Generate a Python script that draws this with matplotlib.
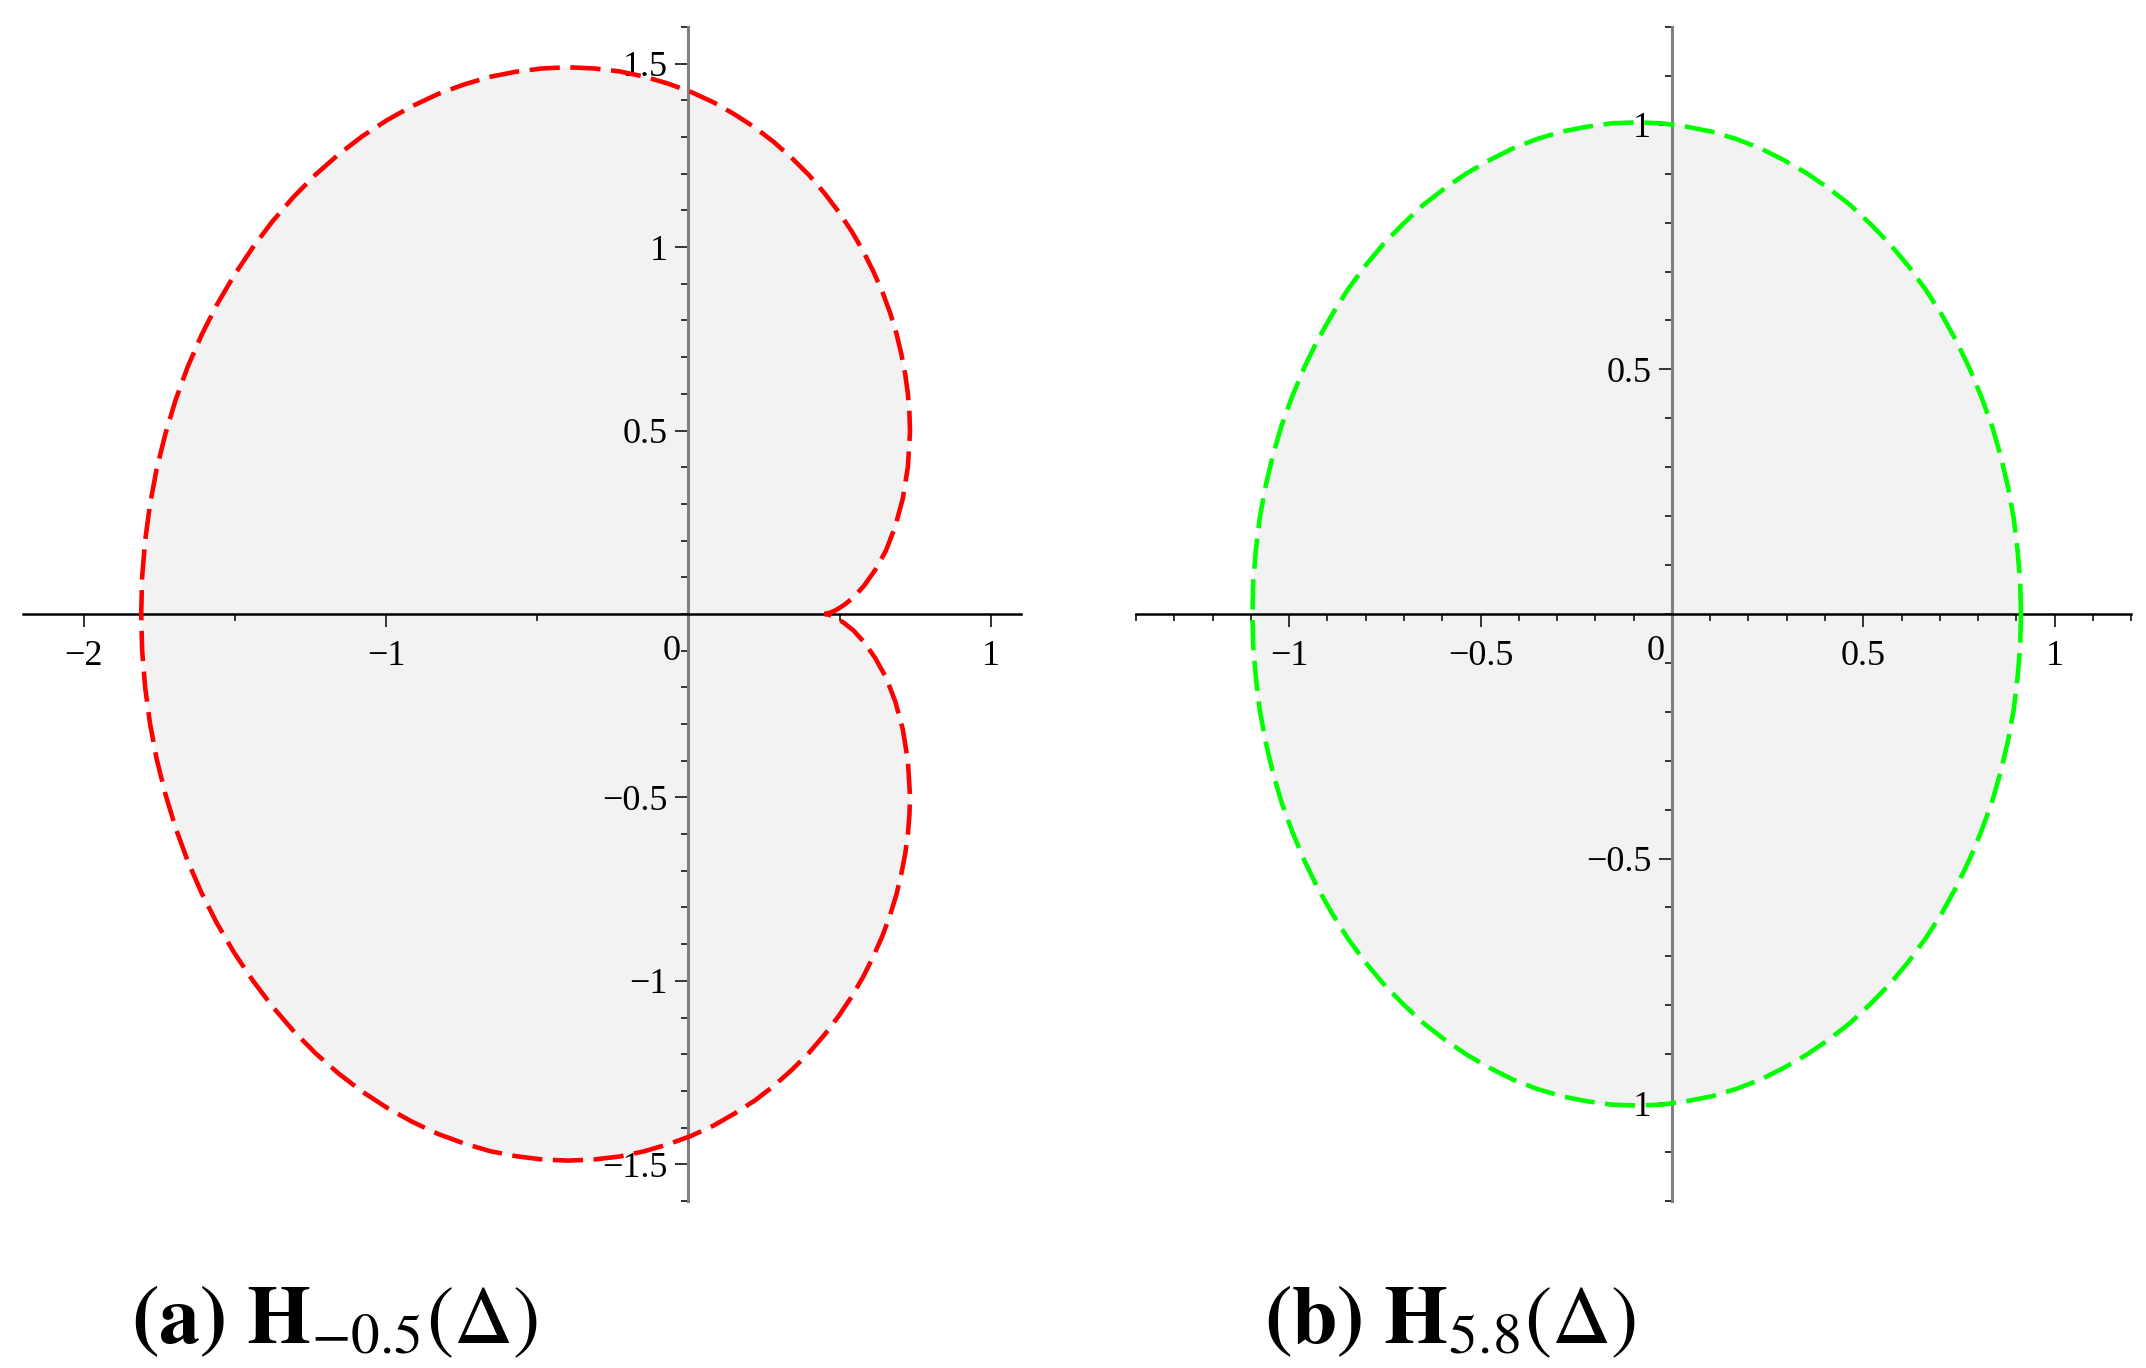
import matplotlib
matplotlib.use("Agg")
import matplotlib.pyplot as plt
from matplotlib.ticker import FixedLocator, MultipleLocator

plt.rcParams["mathtext.fontset"] = "stix"

# upper half of the boundary curves (lower half is the mirror image)
heart_x = [0.450, 0.454, 0.467, 0.487, 0.514, 0.546, 0.581, 0.617, 0.653, 0.684,
           0.709, 0.726, 0.733, 0.731, 0.726, 0.717, 0.704, 0.688, 0.667, 0.642,
           0.612, 0.578, 0.540, 0.497, 0.450, 0.399, 0.343, 0.283, 0.220, 0.152,
           0.082, 0.008, -0.069, -0.148, -0.229, -0.313, -0.398, -0.483, -0.570,
           -0.657, -0.743, -0.829, -0.914, -0.997, -1.079, -1.158, -1.234, -1.307,
           -1.376, -1.441, -1.502, -1.559, -1.610, -1.656, -1.696, -1.730, -1.759,
           -1.781, -1.797, -1.807, -1.810]
heart_y = [0.000, 0.000, 0.003, 0.010, 0.024, 0.045, 0.077, 0.119, 0.172, 0.238,
           0.314, 0.401, 0.497, 0.548, 0.600, 0.654, 0.709, 0.765, 0.821, 0.877,
           0.933, 0.989, 1.043, 1.096, 1.147, 1.196, 1.242, 1.286, 1.326, 1.362,
           1.395, 1.423, 1.446, 1.465, 1.479, 1.487, 1.490, 1.487, 1.478,
           1.464, 1.443, 1.417, 1.384, 1.346, 1.302, 1.252, 1.197, 1.136,
           1.070, 0.999, 0.924, 0.844, 0.761, 0.674, 0.584, 0.491, 0.395,
           0.298, 0.200, 0.100, 0.000]

oval_x = [0.912, 0.910, 0.903, 0.893, 0.878, 0.859, 0.836, 0.808, 0.777, 0.743,
          0.705, 0.663, 0.618, 0.570, 0.519, 0.466, 0.410, 0.352, 0.292, 0.231,
          0.168, 0.104, 0.039, -0.026, -0.092, -0.158, -0.223, -0.288, -0.352,
          -0.415, -0.476, -0.536, -0.594, -0.650, -0.703, -0.754, -0.802, -0.847,
          -0.888, -0.927, -0.961, -0.992, -1.020, -1.043, -1.062, -1.077, -1.087,
          -1.094, -1.096]
oval_y = [0.000, 0.066, 0.131, 0.196, 0.260, 0.323, 0.385, 0.445, 0.503, 0.558,
          0.612, 0.663, 0.711, 0.756, 0.797, 0.836, 0.870, 0.901, 0.928, 0.952,
          0.971, 0.986, 0.996, 1.003, 1.005, 1.003, 0.996, 0.986, 0.971,
          0.952, 0.928, 0.901, 0.870, 0.836, 0.797, 0.756, 0.711, 0.663,
          0.612, 0.558, 0.503, 0.445, 0.385, 0.323, 0.260, 0.196, 0.131,
          0.066, 0.000]

left_xticks = [-2, -1, 0, 1]
left_xlabels = ["\u22122", "\u22121", "", "1"]
left_yticks = [-1.5, -1, -0.5, 0.5, 1, 1.5]
left_ylabels = ["\u22121.5", "\u22121", "\u22120.5", "0.5", "1", "1.5"]

right_xticks = [-1, -0.5, 0, 0.5, 1]
right_xlabels = ["\u22121", "\u22120.5", "", "0.5", "1"]
right_yticks = [-1, -0.5, 0.5, 1]
right_ylabels = ["\u22121", "\u22120.5", "0.5", "1"]

captions = [r"$\mathbf{(a)}\ \mathbf{H}_{-0.5}(\Delta)$", r"$\mathbf{(b)}\ \mathbf{H}_{5.8}(\Delta)$"]


def closed(xs, ys):
    return list(xs) + list(xs[::-1][1:]), list(ys) + [-v for v in ys[::-1][1:]]


def draw_panel(ax, xs, ys, color, xlim, ylim, xt, xl, yt, yl, xminor):
    cx, cy = closed(xs, ys)
    ax.fill(cx, cy, color="#f2f2f2", lw=0, zorder=1)
    ax.plot(cx, cy, color=color, lw=3.3, ls=(0, (6.6, 2.3)), zorder=3,
            solid_joinstyle="round", dash_joinstyle="round")
    ax.set_xlim(*xlim)
    ax.set_ylim(*ylim)

    for s in ("top", "right"):
        ax.spines[s].set_visible(False)
    ax.spines["left"].set_position(("data", 0))
    ax.spines["bottom"].set_position(("data", 0))
    ax.spines["left"].set_color("#808080")
    ax.spines["left"].set_linewidth(2.2)
    ax.spines["bottom"].set_color("black")
    ax.spines["bottom"].set_linewidth(1.8)

    ax.xaxis.set_major_locator(FixedLocator(xt))
    ax.set_xticklabels(xl)
    ax.xaxis.set_minor_locator(MultipleLocator(xminor))
    ax.yaxis.set_major_locator(FixedLocator(yt))
    ax.set_yticklabels(yl)
    ax.yaxis.set_minor_locator(MultipleLocator(0.1))

    ax.tick_params(which="major", direction="out", length=9.4, width=1.4,
                   color="#333333", labelsize=26)
    ax.tick_params(which="minor", direction="out", length=5, width=1.4, color="#333333")
    ax.tick_params(axis="x", which="major", pad=9)
    ax.tick_params(axis="y", which="major", pad=5.5)
    for lab in ax.get_xticklabels() + ax.get_yticklabels():
        lab.set_family("Liberation Serif")

    ax.annotate("0", xy=(0, 0), xytext=(-12, -27), textcoords="offset points",
                ha="center", va="center", fontsize=26, family="Liberation Serif")
    ax.set_facecolor("none")


fig = plt.figure(figsize=(21.46, 13.68), dpi=100)
ax1 = fig.add_axes([0.01086, 0.1221, 0.4649, 0.8582])
ax2 = fig.add_axes([0.5294, 0.1221, 0.4637, 0.8582])

draw_panel(ax1, heart_x, heart_y, "#ff0000", (-2.2, 1.1), (-1.6, 1.6),
           left_xticks, left_xlabels, left_yticks, left_ylabels, 0.5)
draw_panel(ax2, oval_x, oval_y, "#00ff00", (-1.4, 1.2), (-1.2, 1.2),
           right_xticks, right_xlabels, right_yticks, right_ylabels, 0.1)

fig.text(0.061, 0.018, captions[0], fontsize=59, ha="left", va="baseline")
fig.text(0.589, 0.018, captions[1], fontsize=59, ha="left", va="baseline")

fig.savefig("out.png", dpi=100)
